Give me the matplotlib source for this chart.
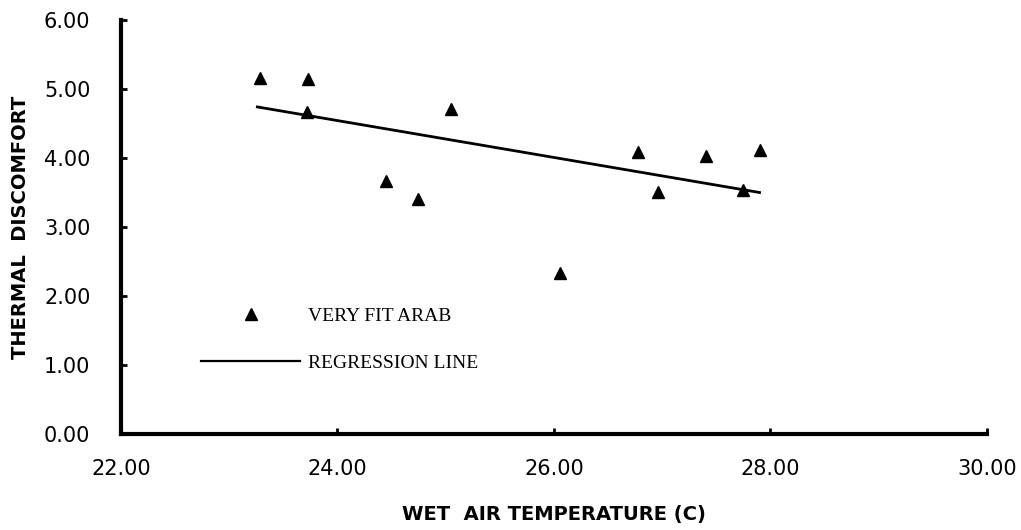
#libraries used
import matplotlib
matplotlib.use('Agg')
import matplotlib.pyplot as plt
from matplotlib.lines import Line2D

#data
temp = [23.28, 23.73, 23.72, 24.45, 24.74, 25.05, 26.06, 26.78, 26.96, 27.41, 27.75, 27.90] # wet air temperature (C)
discomfort = [5.16, 5.14, 4.67, 3.67, 3.41, 4.71, 2.34, 4.08, 3.51, 4.03, 3.53, 4.12] # thermal discomfort
reg_x = [23.26, 27.90] # regression line ends
reg_y = [4.74, 3.50]
x_ticks = [22, 24, 26, 28, 30]
y_ticks = [0, 1, 2, 3, 4, 5, 6]

fig = plt.figure(figsize=(10.21, 5.30), dpi=100)
ax = fig.add_axes([0.1185, 0.1811, 0.848, 0.7812])

ax.plot(temp, discomfort, '^', color='black', markersize=9, linestyle='none') # points
ax.plot(reg_x, reg_y, '-', color='black', linewidth=2) # regression line

ax.set_xlim(22, 30)
ax.set_ylim(0, 6)
ax.set_xticks(x_ticks)
ax.set_yticks(y_ticks)
ax.set_xticklabels(['%.2f' % v for v in x_ticks])
ax.set_yticklabels(['%.2f' % v for v in y_ticks])

for side in ['top', 'right']:
    ax.spines[side].set_visible(False)
for side in ['left', 'bottom']:
    ax.spines[side].set_linewidth(3)
ax.tick_params(axis='both', direction='in', length=4, width=2, labelsize=15)
ax.tick_params(axis='x', pad=18)
ax.tick_params(axis='y', pad=22)

ax.set_xlabel('WET  AIR TEMPERATURE (C)', fontsize=14, fontweight='bold', labelpad=19)
ax.set_ylabel('THERMAL  DISCOMFORT', fontsize=14, fontweight='bold', labelpad=10)

#legend drawn through the library
handles = [Line2D([], [], marker='^', color='black', markersize=9, linestyle='none'),
           Line2D([], [], color='black', linewidth=1.6)]
ax.legend(handles, ['VERY FIT ARAB', 'REGRESSION LINE'], frameon=False,
          prop={'family': 'Liberation Serif', 'size': 14},
          handlelength=5.05, handletextpad=0.41, labelspacing=1.5, numpoints=1,
          loc='upper left', bbox_to_anchor=(0.084, 0.325), borderaxespad=0)

fig.savefig('out.png', dpi=100)
